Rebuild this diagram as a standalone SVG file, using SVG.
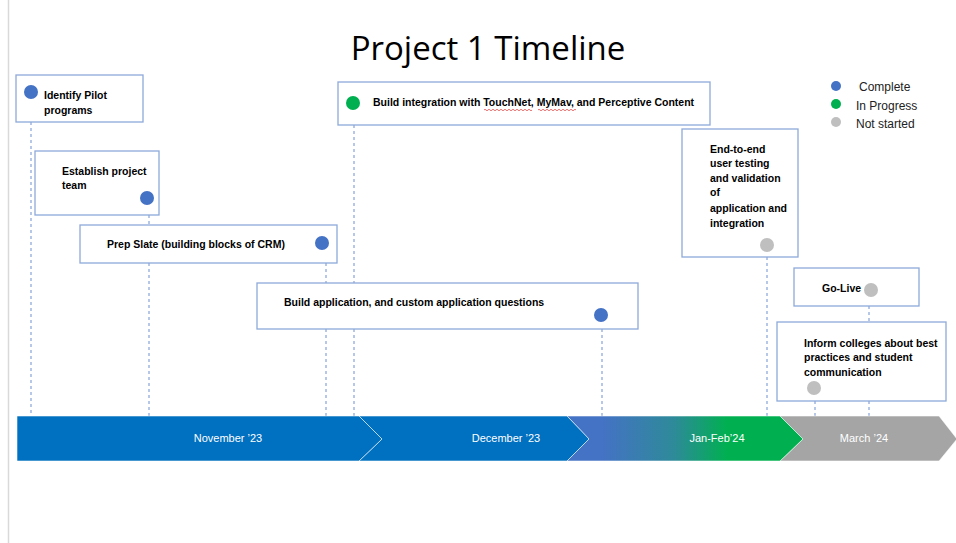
<svg xmlns="http://www.w3.org/2000/svg" width="956" height="543" viewBox="0 0 956 543">
<defs>
<linearGradient id="jf" x1="567" y1="0" x2="803" y2="0" gradientUnits="userSpaceOnUse">
<stop offset="0.15" stop-color="#4472C4"/>
<stop offset="0.45" stop-color="#2E8A9A"/>
<stop offset="0.68" stop-color="#00B050"/>
<stop offset="1" stop-color="#00B050"/>
</linearGradient>
</defs>
<style>
.box{fill:#fff;stroke:#8EA9DB;stroke-width:1.3}
.t{font-family:"Liberation Sans",Arial,sans-serif;font-weight:bold;font-size:10.5px;fill:#000}
.lg{font-family:"Liberation Sans",Arial,sans-serif;font-size:12px;fill:#222}
.bar{font-family:"Liberation Sans",Arial,sans-serif;font-size:11px;fill:#fff;text-anchor:middle}
.c{fill:none;stroke:#6F8FD0;stroke-width:1;stroke-dasharray:3 3}
.seg{stroke:#fff;stroke-width:0.8;stroke-opacity:0.7}
.blue{fill:#4472C4}.green{fill:#00B050}.gray{fill:#BFBFBF}
.sq{fill:none;stroke:#E03030;stroke-width:0.7}
</style>
<rect width="956" height="543" fill="#fff"/>
<line x1="8.5" y1="0" x2="8.5" y2="543" stroke="#D9D9D9" stroke-width="1.5"/>
<text x="488" y="60" text-anchor="middle" font-family="'Open Sans','Liberation Sans',sans-serif" font-size="33" fill="#000">Project 1 Timeline</text>

<g id="connectors">
<line class="c" x1="31" y1="122" x2="31" y2="416"/>
<line class="c" x1="149" y1="215" x2="149" y2="416"/>
<line class="c" x1="326" y1="263" x2="326" y2="416"/>
<line class="c" x1="354" y1="125" x2="354" y2="416"/>
<line class="c" x1="602" y1="329" x2="602" y2="416"/>
<line class="c" x1="767" y1="257" x2="767" y2="416"/>
<line class="c" x1="869" y1="306" x2="869" y2="322"/>
<line class="c" x1="869" y1="401" x2="869" y2="416"/>
<line class="c" x1="815" y1="401" x2="815" y2="419"/>
</g>

<g id="timeline">
<path class="seg" d="M780 416 H939 L957 439 L939 461 H780 L803 439 Z" fill="#A5A5A5"/>
<path class="seg" d="M567 416 H780 L803 439 L780 461 H567 L589 439 Z" fill="url(#jf)"/>
<path class="seg" d="M359 416 H567 L589 439 L567 461 H359 L382 439 Z" fill="#0070C0"/>
<path class="seg" d="M17 416 H359 L382 439 L359 461 H17 Z" fill="#0070C0"/>
<text class="bar" x="228" y="442">November ’23</text>
<text class="bar" x="506" y="442">December ’23</text>
<text class="bar" x="717" y="442">Jan-Feb’24</text>
<text class="bar" x="864" y="442">March ’24</text>
</g>

<g id="n1">
<rect class="box" x="16" y="75" width="127" height="47"/>
<circle class="blue" cx="31" cy="92" r="7"/>
<text class="t" x="44" y="99">Identify Pilot</text>
<text class="t" x="44" y="114">programs</text>
</g>
<g id="n2">
<rect class="box" x="35" y="151" width="124" height="64"/>
<text class="t" x="62" y="175">Establish project</text>
<text class="t" x="62" y="189">team</text>
<circle class="blue" cx="147" cy="198" r="7"/>
</g>
<g id="n3">
<rect class="box" x="80" y="225" width="257" height="38"/>
<text class="t" x="107" y="248">Prep Slate (building blocks of CRM)</text>
<circle class="blue" cx="322" cy="243" r="7"/>
</g>
<g id="n4">
<rect class="box" x="338" y="82" width="372" height="43"/>
<circle class="green" cx="353" cy="103" r="7"/>
<text class="t" x="373" y="106">Build integration with TouchNet, MyMav, and Perceptive Content</text>
<path class="sq" d="M484 110 q1 -1.5 2 0 t2 0 t2 0 t2 0 t2 0 t2 0 t2 0 t2 0 t2 0 t2 0 t2 0 t2 0 t2 0 t2 0 t2 0 t2 0 t2 0 t2 0 t2 0 t2 0 t2 0 t2 0 t2 0 t2 0"/>
<path class="sq" d="M538 110 q1 -1.5 2 0 t2 0 t2 0 t2 0 t2 0 t2 0 t2 0 t2 0 t2 0 t2 0 t2 0 t2 0 t2 0 t2 0 t2 0 t2 0 t2 0 t2 0 t2 0"/>
</g>
<g id="n5">
<rect class="box" x="682" y="129" width="116" height="128"/>
<text class="t" x="710" y="153">End-to-end</text>
<text class="t" x="710" y="167">user testing</text>
<text class="t" x="710" y="182">and validation</text>
<text class="t" x="710" y="196">of</text>
<text class="t" x="710" y="212">application and</text>
<text class="t" x="710" y="227">integration</text>
<circle class="gray" cx="767" cy="245" r="7"/>
</g>
<g id="n6">
<rect class="box" x="257" y="283" width="381" height="46"/>
<text class="t" x="284" y="306">Build application, and custom application questions</text>
<circle class="blue" cx="601" cy="315" r="7"/>
</g>
<g id="n7">
<rect class="box" x="794" y="268" width="125" height="38"/>
<text class="t" x="822" y="292">Go-Live</text>
<circle class="gray" cx="871" cy="290" r="7"/>
</g>
<g id="n8">
<rect class="box" x="777" y="322" width="169" height="79"/>
<text class="t" x="804" y="347">Inform colleges about best</text>
<text class="t" x="804" y="361">practices and student</text>
<text class="t" x="804" y="376">communication</text>
<circle class="gray" cx="814" cy="388" r="7"/>
</g>

<g id="legend">
<circle class="blue" cx="836" cy="86" r="5"/>
<circle class="green" cx="836" cy="104" r="5"/>
<circle class="gray" cx="836" cy="122" r="5"/>
<text class="lg" x="859" y="91">Complete</text>
<text class="lg" x="856" y="110">In Progress</text>
<text class="lg" x="856" y="128">Not started</text>
</g>
</svg>
